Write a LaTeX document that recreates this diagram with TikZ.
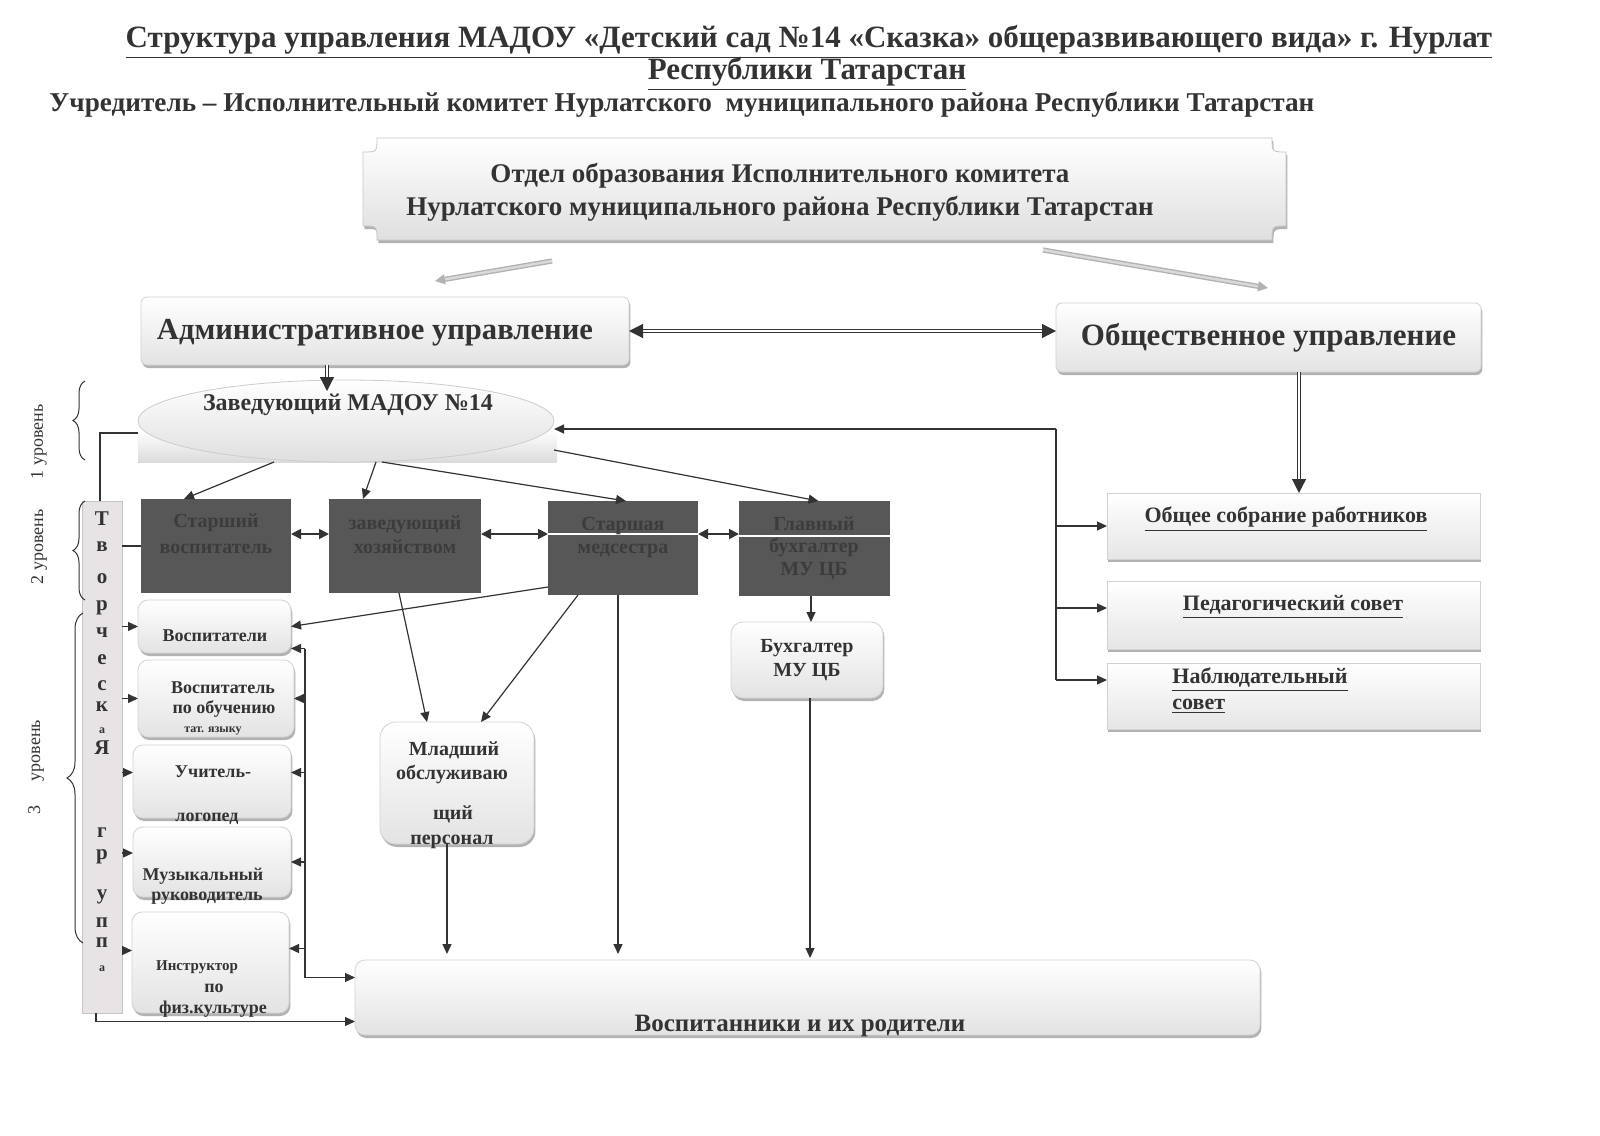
\documentclass[tikz,border=0pt]{standalone}
\usepackage{fontspec}
\setmainfont{Liberation Serif}
\usetikzlibrary{arrows.meta,shapes.geometric,shadows,decorations.pathreplacing}
\definecolor{ink}{HTML}{333333}
\definecolor{dbox}{HTML}{575757}
\definecolor{dtext}{HTML}{3C3C3C}
\definecolor{barfill}{HTML}{E8E4E6}
\newcommand{\fsz}[2]{\fontsize{#1}{#2}\selectfont}
\tikzset{
 sz/.style 2 args={minimum width=#1*0.5pt, minimum height=#2*0.5pt, inner sep=0pt, outer sep=0pt},
 shad/.style={drop shadow={shadow xshift=0.7pt, shadow yshift=-1.5pt, fill=black!60}},
 roundbox/.style={shad, draw=gray!35, top color=white, bottom color=gray!22, rounded corners=3pt},
 plainbox/.style={shad, draw=gray!35, top color=white, bottom color=gray!20},
 darkbox/.style={fill=dbox, draw=none},
 txt/.style={inner sep=0pt, align=center},
 dtxt/.style={inner sep=0pt, align=center, text=dtext},
 arr/.style={draw=ink, line width=0.6pt, -{Triangle[length=5pt,width=4.5pt]}},
 ln/.style={draw=ink, line width=0.6pt},
 biarr/.style={draw=ink, line width=0.9pt, {Triangle[length=5pt,width=5pt]}-{Triangle[length=5pt,width=5pt]}},
 dblarr/.style={draw=ink, double=white, double distance=1.2pt, line width=0.6pt, -{Triangle[length=7pt,width=7pt]}},
 dblbi/.style={draw=ink, double=white, double distance=1.2pt, line width=0.6pt, {Triangle[length=7pt,width=7pt]}-{Triangle[length=7pt,width=7pt]}},
 grayarr/.style={draw=gray!60, double=gray!30, double distance=1.2pt, line width=0.7pt, -{Triangle[length=5pt,width=5pt]}},
 brc/.style={draw=ink, line width=0.5pt, decorate, decoration={brace, amplitude=6pt}},
 bl/.style={font=\bfseries\fsz{10.5}{12}, inner sep=0pt},
 bls/.style={font=\bfseries\fsz{6}{7}, inner sep=0pt},
 tthree/.style={font=\bfseries\fsz{9}{11}, inner sep=0pt},
}
\begin{document}
\begin{tikzpicture}[x=0.5pt,y=-0.5pt, every node/.style={font=\bfseries, text=ink}]
\useasboundingbox (0,0) rectangle (1600,1135);

% titles
\node[font=\bfseries\fsz{15.5}{19}] (t1) at (809,42) {\underline{Структура управления МАДОУ «Детский сад №14 «Сказка» общеразвивающего вида» г. Нурлат}};
\node[font=\bfseries\fsz{15.5}{19}] (t2) at (807,74) {\underline{Республики Татарстан}};
\node[font=\bfseries\fsz{13.6}{16}] (t3) at (682,105) {Учредитель – Исполнительный комитет Нурлатского\ \ муниципального района Республики Татарстан};

% top box
\path[shad, draw=gray!45, top color=white, bottom color=gray!25] (377,138) -- (1272,138) .. controls (1272,152) .. (1286,152) -- (1286,226) .. controls (1272,226) .. (1272,240) -- (377,240) .. controls (377,226) .. (363,226) -- (363,152) .. controls (377,152) .. (377,138) -- cycle;
\node[sz={923}{102}] (otdel) at (824.5,189) {};
\node[txt, font=\bfseries\fsz{13.5}{16.5}] (otdelT) at (780,192) {Отдел образования Исполнительного комитета\\Нурлатского муниципального района Республики Татарстан};

% management boxes
\node[roundbox, sz={488}{68}] (adm) at (385,331) {};
\node[font=\bfseries\fsz{15.3}{18}] (admT) at (375,333) {Административное управление};
\node[roundbox, sz={425}{69}, font=\bfseries\fsz{15.5}{18}] (obsh) at (1268.5,337.5) {Общественное управление};

% head
\path[top color=white, bottom color=gray!28] (138,430) rectangle (557,462);
\node[ellipse, draw=gray!40, top color=white, bottom color=gray!25, sz={416}{82}] (zav) at (346,421) {};
\node[font=\bfseries\fsz{12}{14}] (zavT) at (348,405) {Заведующий МАДОУ №14};

% level 2
\node[darkbox, sz={150}{94}] (sv) at (216,546) {};
\node[darkbox, sz={152}{94}] (zx) at (405,546) {};
\node[darkbox, sz={150}{94}] (sm) at (623,548) {};
\node[darkbox, sz={151}{95}] (gb) at (814.5,548.5) {};
\draw[white, line width=1pt] ([yshift=7pt]sm.west) -- ([yshift=7pt]sm.east);
\draw[white, line width=1pt] ([yshift=6.25pt]gb.west) -- ([yshift=6.25pt]gb.east);
\node[dtxt, font=\bfseries\fsz{10}{13}] (svT) at (216,534) {Старший\\воспитатель};
\node[dtxt, font=\bfseries\fsz{10}{12}] (zxT) at (405,535) {заведующий\\хозяйством};
\node[dtxt, font=\bfseries\fsz{10}{11.5}] (smT) at (623,537) {Старшая\\медсестра};
\node[dtxt, font=\bfseries\fsz{10}{11.25}] (gbT) at (814,548) {Главный\\бухгалтер\\МУ ЦБ};

\node[roundbox, rounded corners=6pt, sz={152}{76}, font=\bfseries\fsz{10}{12}, align=center] (buh) at (807,660) {Бухгалтер\\МУ ЦБ};

\node[roundbox, rounded corners=8pt, sz={154}{122}] (ml) at (457,783) {};
\node[font=\bfseries\fsz{10}{12}, inner sep=0pt] (mlT1) at (454,750) {Младший};
\node[font=\bfseries\fsz{10}{12}, inner sep=0pt] (mlT2) at (452,774) {обслуживаю};
\node[font=\bfseries\fsz{10}{12}, inner sep=0pt] (mlT3) at (453,814) {щий};
\node[font=\bfseries\fsz{10}{12}, inner sep=0pt] (mlT4) at (452,842) {персонал};

% level 3
\node[roundbox, rounded corners=5pt, sz={153}{53}] (vosp) at (214.5,626.5) {};
\node[roundbox, rounded corners=5pt, sz={156}{77}] (vpo) at (216,698.5) {};
\node[roundbox, rounded corners=5pt, sz={158}{73}] (ul) at (212,781.5) {};
\node[roundbox, rounded corners=5pt, sz={158}{70}] (muz) at (212,862) {};
\node[roundbox, rounded corners=5pt, sz={157}{101}] (instr) at (210.5,962.5) {};
\node[tthree] (vospT) at (215,636) {Воспитатели};
\node[tthree] (vpoT1) at (223,688) {Воспитатель};
\node[tthree] (vpoT2) at (224,709) {по обучению};
\node[font=\bfseries\fsz{6}{7}, inner sep=0pt] (vpoT3) at (213,731) {тат. языку};
\node[tthree] (ulT1) at (213,772) {Учитель-};
\node[tthree] (ulT2) at (207,819) {логопед};
\node[tthree] (muzT1) at (203,876) {Музыкальный};
\node[tthree] (muzT2) at (207,898) {руководитель};
\node[font=\bfseries\fsz{7.5}{9}, inner sep=0pt] (inT1) at (197,967) {Инструктор};
\node[tthree] (inT2) at (214,988) {по};
\node[tthree] (inT3) at (213,1009) {физ.культуре};

% creative group bar
\node[draw=gray!45, fill=barfill, sz={40}{512}] (bar) at (102,757) {};
\node[bl] at (102,519) {Т};
\node[bl] at (102,547) {в};
\node[bl] at (102,579) {о};
\node[bl] at (102,608) {р};
\node[bl] at (102,633) {ч};
\node[bl] at (102,660) {е};
\node[bl] at (102,686) {с};
\node[bl] at (102,707) {к};
\node[bls] at (102,731) {а};
\node[bl] at (102,748) {Я};
\node[bl] at (102,833) {г};
\node[bl] at (102,857) {р};
\node[bl] at (102,897) {у};
\node[bl] at (102,923) {п};
\node[bl] at (102,943) {п};
\node[bls] at (102,969) {а};

% braces and level labels
\draw[brc] (85,460) -- (85,381);
\draw[brc] (85,600) -- (85,501);
\draw[brc, decoration={brace, amplitude=8pt}] (83,943) -- (83,613);
\node[rotate=90, font=\fsz{9}{11}] (lv1) at (39,442) {1 уровень};
\node[rotate=90, font=\fsz{9}{11}] (lv2) at (39,547) {2 уровень};
\node[rotate=90, font=\fsz{9}{11}] (lv3) at (36,767) {3\hspace{12pt}уровень};

% right boxes
\node[plainbox, sz={373}{66}] (os) at (1293.5,526) {};
\node[font=\bfseries\fsz{11}{13}] (osT) at (1286,519) {\underline{Общее собрание работников}};
\node[plainbox, sz={373}{68}] (ps) at (1293.5,615) {};
\node[font=\bfseries\fsz{11}{13}] (psT) at (1293,607) {\underline{Педагогический совет}};
\node[plainbox, sz={373}{66}] (ns) at (1293.5,696) {};
\node[anchor=west, align=left, inner sep=0pt, font=\bfseries\fsz{11}{13}] (nsT) at (1172,691) {\underline{Наблюдательный}\\\underline{совет}};

% bottom box
\node[roundbox, rounded corners=5pt, sz={905}{75}] (vr) at (807.5,997.5) {};
\node[font=\bfseries\fsz{12.5}{15}, inner sep=0pt] (vrT) at (800,1026) {Воспитанники и их родители};

% connectors: top
\coordinate (g1s) at (552,261);
\coordinate (g1e) at (435,281);
\coordinate (g2s) at (1043,250);
\coordinate (g2e) at (1268,288);
\draw[grayarr] (g1s) -- (g1e);
\draw[grayarr] (g2s) -- (g2e);
\draw[dblbi] (adm.east) -- (adm.east -| obsh.west);
\coordinate (cx1) at (327,391);
\draw[dblarr] (adm.south -| cx1) -- (cx1);
\coordinate (cx2) at (1299,0);
\draw[dblarr] (obsh.south -| cx2) -- (os.north -| cx2);

% from head
\draw[arr] ([xshift=-36pt]zav.south) -- ([xshift=-16pt]sv.north);
\draw[arr] ([xshift=15pt]zav.south) -- ([xshift=-21pt]zx.north);
\draw[arr] ([xshift=18pt]zav.south) -- ([xshift=1.5pt]sm.north);
\draw[arr] ([yshift=-14.5pt]zav.east) -- ([xshift=2pt]gb.north);

% right bus
\coordinate (bus1) at (1056,429);
\coordinate (psin) at ([yshift=3.5pt]ps.west);
\coordinate (nsin) at ([yshift=8pt]ns.west);
\draw[arr] (bus1) -- ([yshift=-4pt]zav.east);
\draw[ln] (bus1) -- (bus1 |- nsin);
\draw[arr] (bus1 |- os.west) -- (os.west);
\draw[arr] (bus1 |- psin) -- (psin);
\draw[arr] (bus1 |- nsin) -- (nsin);

% level 2 links
\draw[biarr] ([yshift=6pt]sv.east) -- ([yshift=6pt]zx.west);
\draw[biarr] ([yshift=6pt]zx.east) -- ([yshift=7pt]sm.west);
\draw[biarr] ([yshift=7pt]sm.east) -- ([yshift=7.25pt]gb.west);

\draw[arr] ([yshift=4pt]sm.south west) -- (vosp.east);
\draw[arr] ([xshift=-3pt]zx.south) -- ([xshift=-15pt]ml.north);
\draw[arr] ([xshift=-22.5pt]sm.south) -- ([xshift=12pt]ml.north);
\coordinate (smx) at (618,0);
\draw[arr, shorten >=3pt] (sm.south -| smx) -- (vr.north -| smx);
\coordinate (mlx) at (447,0);
\draw[arr, shorten >=3pt] (ml.south -| mlx) -- (vr.north -| mlx);
\coordinate (bx) at (811,0);
\draw[arr] (gb.south -| bx) -- (buh.north -| bx);
\coordinate (bx2) at (810,0);
\draw[arr, shorten >=1pt] (buh.south -| bx2) -- (vr.north -| bx2);

% creative group links
\draw[ln] ([yshift=-6pt]zav.west) -| ([xshift=-1pt]bar.north);
\draw[ln] (bar.east |- sv.west) -- (sv.west);
\draw[arr] (bar.east |- vosp.west) -- (vosp.west);
\draw[arr] (bar.east |- vpo.west) -- (vpo.west);
\coordinate (ulin) at ([yshift=4.5pt]ul.west);
\draw[arr] (bar.east |- ulin) -- (ulin);
\coordinate (muzin) at ([yshift=4.5pt]muz.west);
\draw[arr] (bar.east |- muzin) -- (muzin);
\coordinate (insin) at ([yshift=6pt]instr.west);
\draw[arr] (bar.east |- insin) -- (insin);

% left bus
\coordinate (lb) at (305,0);
\coordinate (vospin) at ([yshift=-11pt]vosp.east);
\coordinate (vrin1) at ([yshift=10pt]vr.west);
\coordinate (ulr) at ([yshift=4.5pt]ul.east);
\coordinate (insr) at ([yshift=7pt]instr.east);
\draw[ln] (lb |- vospin) -- (lb |- vrin1);
\draw[arr] (lb |- vospin) -- (vospin);
\draw[arr] (lb |- vpo.east) -- (vpo.east);
\draw[arr] (lb |- ulr) -- (ulr);
\draw[arr] (lb |- muz.east) -- (muz.east);
\draw[arr] (lb |- insr) -- (insr);
\draw[arr] (lb |- vrin1) -- (vrin1);
\draw[arr] ([xshift=-3pt]bar.south) |- ([yshift=-12pt]vr.west);
\end{tikzpicture}
\end{document}
